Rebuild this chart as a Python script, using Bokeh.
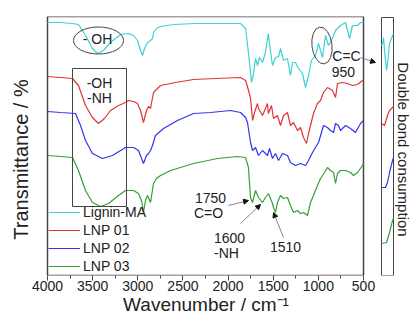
import math
from bokeh.plotting import figure
from bokeh.models import Range1d, FixedTicker, Legend, LegendItem, Arrow, NormalHead
from bokeh.core.properties import value
from bokeh.embed import file_html
from bokeh.resources import INLINE

FONT = "Liberation Sans"

# ---------------- data ----------------
wn_lignin = [4000, 3856, 3723, 3657, 3579, 3502, 3446, 3380, 3302, 3247, 3191, 3103, 3047, 3003,
             2970, 2948, 2926, 2892, 2859, 2837, 2826, 2793, 2748, 2604, 2361, 2051, 1862, 1806,
             1773, 1740, 1718, 1696, 1674, 1652, 1619, 1586, 1554, 1531, 1508, 1475, 1441, 1419,
             1386, 1342, 1309, 1286, 1253, 1220, 1176, 1142, 1109, 1076, 1032, 998, 954, 921,
             888, 854, 810, 755, 699, 655, 622, 566, 533, 500]
t_lignin = [253, 253, 252, 251, 240, 227, 222, 225, 233, 237, 241, 242, 240, 235,
            225, 220, 227, 233, 235, 237, 243, 247, 249, 251, 252, 252, 252, 247,
            222, 193, 202, 217, 210, 218, 213, 223, 242, 225, 210, 218, 219, 227,
            215, 217, 200, 213, 213, 207, 202, 188, 200, 215, 220, 232, 218, 240,
            230, 235, 245, 250, 253, 237, 250, 250, 253, 253]

wn_lnp01 = [4000, 3856, 3723, 3657, 3579, 3502, 3435, 3369, 3302, 3214, 3136, 3103, 3047, 3003,
            2970, 2937, 2904, 2881, 2859, 2826, 2748, 2582, 2383, 2139, 1862, 1806, 1773, 1751,
            1729, 1707, 1674, 1663, 1619, 1586, 1564, 1554, 1519, 1497, 1453, 1419, 1386, 1342,
            1309, 1275, 1231, 1198, 1165, 1131, 1109, 1087, 1054, 1010, 976, 943, 899, 843,
            810, 788, 733, 677, 622, 566, 511, 500]
t_lnp01 = [199, 198, 197, 190, 170, 158, 152, 157, 165, 170, 173, 175, 174, 172,
           165, 153, 165, 169, 167, 183, 190, 193, 196, 197, 198, 195, 185, 177,
           155, 163, 172, 167, 160, 167, 172, 162, 170, 157, 160, 150, 160, 163,
           150, 153, 145, 148, 138, 132, 142, 150, 162, 172, 175, 183, 188, 185,
           178, 192, 193, 192, 190, 191, 195, 195]

wn_lnp02 = [4000, 3856, 3690, 3634, 3579, 3502, 3391, 3281, 3136, 3047, 2992, 2937, 2904, 2881,
            2859, 2837, 2804, 2715, 2560, 2383, 2195, 1973, 1862, 1806, 1785, 1751, 1729, 1696,
            1663, 1619, 1564, 1541, 1508, 1475, 1441, 1397, 1342, 1309, 1253, 1198, 1142, 1109,
            1065, 1032, 998, 943, 899, 866, 832, 810, 777, 755, 699, 644, 589, 533, 500]
t_lnp02 = [164, 163, 162, 150, 135, 122, 117, 120, 128, 128, 125, 112, 120, 122,
           125, 130, 140, 147, 155, 162, 163, 165, 163, 158, 153, 133, 125, 128,
           120, 125, 120, 127, 117, 122, 115, 122, 120, 113, 110, 112, 110, 115,
           123, 128, 133, 150, 148, 145, 143, 152, 150, 145, 150, 147, 143, 152, 155]

wn_lnp03 = [4000, 3856, 3723, 3657, 3579, 3502, 3413, 3324, 3214, 3136, 3047, 2992, 2959, 2937,
            2915, 2892, 2859, 2826, 2793, 2748, 2637, 2383, 2117, 1896, 1807, 1774, 1752, 1729,
            1696, 1663, 1619, 1586, 1553, 1508, 1497, 1475, 1453, 1419, 1386, 1342, 1309, 1275,
            1231, 1198, 1165, 1120, 1087, 1054, 1010, 976, 932, 899, 866, 832, 810, 788,
            755, 699, 644, 611, 566, 511, 500]
t_lnp03 = [120, 119, 118, 105, 85, 73, 69, 72, 80, 85, 85, 82, 75, 63,
           75, 80, 73, 92, 97, 100, 105, 112, 117, 119, 118, 108, 78, 73,
           85, 78, 73, 78, 82, 72, 68, 63, 73, 80, 77, 78, 70, 63,
           65, 62, 63, 60, 73, 80, 90, 97, 103, 108, 105, 103, 92, 102,
           105, 105, 103, 100, 103, 110, 112]

# inset: double bond band (zoomed 1000-900 cm-1)
wn_in_lignin = [1000, 992, 983, 975, 958, 950, 933, 908, 900]
t_in_lignin = [230, 232, 238, 225, 205, 212, 232, 240, 242]
wn_in_lnp01 = [1000, 975, 950, 933, 908, 900]
t_in_lnp01 = [152, 150, 160, 165, 168, 169]
wn_in_lnp02 = [1000, 967, 950, 933, 908, 900]
t_in_lnp02 = [88, 88, 93, 103, 115, 118]
wn_in_lnp03 = [1000, 958, 933, 908, 900]
t_in_lnp03 = [32, 33, 43, 55, 57]

names = ["Lignin-MA", "LNP 01", "LNP 02", "LNP 03"]
colors = ["#3fd2d2", "#e03434", "#3434f0", "#34a034"]

x_ticks = [4000, 3500, 3000, 2500, 2000, 1500, 1000, 500]
x_minor = [3750, 3250, 2750, 2250, 1750, 1250, 750]

# annotations (main-axis data coordinates)
ann_x = [3446, 3424, 3424, 688, 722, 2195, 2217, 1984, 2017, 1364]
ann_y = [237, 193, 178, 220, 204, 78, 63, 38, 23, 29]
ann_t = ["- OH", "-OH", "-NH", "C=C", "950", "1750", "C=O", "1600", "-NH", "1510"]
arrows = [((533, 218), (367, 213)), ((1995, 70), (1774, 75)),
          ((1862, 52), (1641, 71)), ((1386, 38), (1497, 63))]
main_box = (4000, 500, 0, 259)        # left, right, bottom, top of main panel
inset_box = (1000, 900, 0, 258)       # in inset coordinates
ylabel_pos = (4290, 116)
rlabel_pos = (818, 126)               # inset coordinates

# ---------------- single figure holding main panel + inset ----------------
p = figure(width=411, height=323, x_range=Range1d(4520.6, -31.6), y_range=Range1d(0, 259),
           x_axis_location="below", y_axis_location=None,
           output_backend="svg", toolbar_location=None,
           min_border_left=0, min_border_right=0, min_border_top=16, min_border_bottom=48)
p.extra_x_ranges = {"inset": Range1d(4175, 750)}
p.xgrid.visible = False
p.ygrid.visible = False
p.outline_line_color = None
p.background_fill_color = "white"
p.border_fill_color = "white"

xa = p.xaxis[0]
xa.ticker = FixedTicker(ticks=x_ticks, minor_ticks=x_minor)
xa.major_tick_in = 0
xa.major_tick_out = 5
xa.minor_tick_in = 0
xa.minor_tick_out = 3
xa.axis_line_color = None
xa.major_tick_line_color = "#444444"
xa.minor_tick_line_color = "#444444"
xa.major_label_text_font = FONT
xa.major_label_text_font_size = "14px"
xa.major_label_text_color = "#222222"
xa.major_label_standoff = 0
xa.axis_label = "Wavenumber / cm\u207b\u00b9"
xa.axis_label_text_font = FONT
xa.axis_label_text_font_size = "19px"
xa.axis_label_text_font_style = "normal"
xa.axis_label_text_color = "#222222"
xa.axis_label_standoff = 0

# frames
p.quad(left=[main_box[0]], right=[main_box[1]], bottom=[main_box[2]], top=[main_box[3]],
       fill_color=None, line_color="#444444", line_width=1.5)
p.quad(left=[inset_box[0]], right=[inset_box[1]], bottom=[inset_box[2]], top=[inset_box[3]],
       x_range_name="inset", fill_color=None, line_color="#444444", line_width=1)

renderers = []
for wn, t, c in zip([wn_lignin, wn_lnp01, wn_lnp02, wn_lnp03],
                    [t_lignin, t_lnp01, t_lnp02, t_lnp03], colors):
    renderers.append(p.line(wn, t, line_color=c, line_width=1.2))

for wn, t, c in zip([wn_in_lignin, wn_in_lnp01, wn_in_lnp02, wn_in_lnp03],
                    [t_in_lignin, t_in_lnp01, t_in_lnp02, t_in_lnp03], colors):
    p.line(wn, t, line_color=c, line_width=1.2, x_range_name="inset")

legend = Legend(items=[LegendItem(label=n, renderers=[r]) for n, r in zip(names, renderers)],
                location=(48, 0), padding=0, margin=0, spacing=0,
                glyph_width=32, glyph_height=18, label_height=18, label_standoff=3,
                label_text_font=FONT, label_text_font_size="14px", label_text_color="#222222",
                border_line_color=None, background_fill_alpha=0)
p.add_layout(legend)

# axis titles as text
p.text(x=[ylabel_pos[0]], y=[ylabel_pos[1]], text=["Transmittance / %"], angle=math.pi / 2,
       text_font=value(FONT), text_font_size="20px", text_color="#222222",
       text_align="center", text_baseline="middle")
p.text(x=[rlabel_pos[0]], y=[rlabel_pos[1]], text=["Double bond consumption"], angle=-math.pi / 2,
       x_range_name="inset", text_font=value(FONT), text_font_size="15px", text_color="#222222",
       text_align="center", text_baseline="middle")

# ellipses and box
p.ellipse(x=[3435], y=[235], width=50, height=27, width_units="screen", height_units="screen",
          fill_color=None, line_color="#444444", line_width=1)
p.ellipse(x=[960], y=[230], width=20, height=37, width_units="screen", height_units="screen",
          angle=0.12, fill_color=None, line_color="#444444", line_width=1)
p.quad(left=[3723], right=[3125], top=[207], bottom=[69], fill_color=None,
       line_color="#444444", line_width=1)

p.text(x=ann_x, y=ann_y, text=ann_t, text_font=value(FONT), text_font_size="14px",
       text_align="center", text_baseline="middle", text_color="#222222")

for (xs, ys), (xe, ye) in arrows:
    p.add_layout(Arrow(end=NormalHead(size=5, fill_color="#111111", line_color="#111111"),
                       x_start=xs, y_start=ys, x_end=xe, y_end=ye,
                       line_color="#666666", line_width=0.8))

open("out.html", "w").write(file_html(p, INLINE))
